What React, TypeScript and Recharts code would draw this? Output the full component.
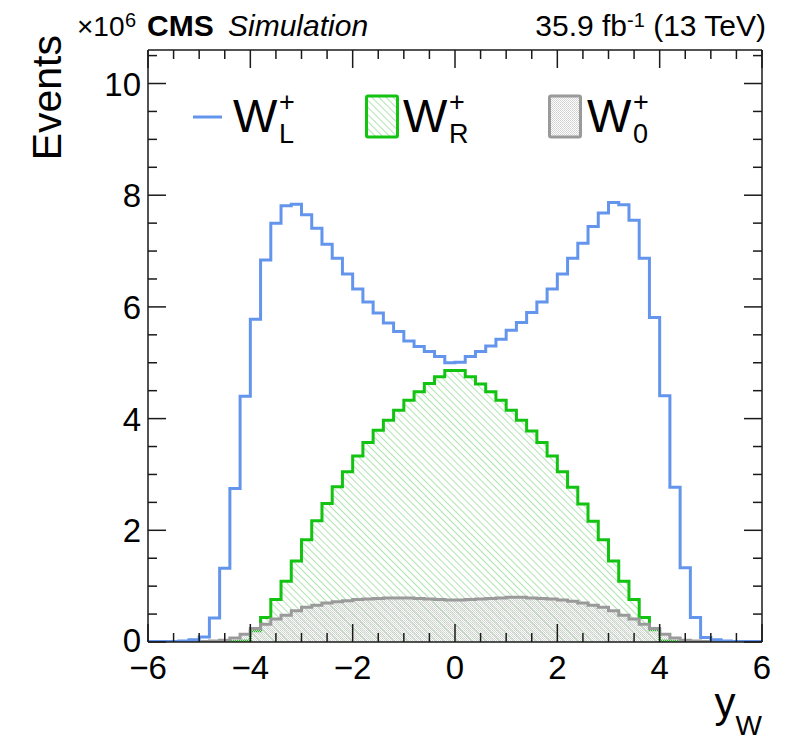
import React from 'react';
import { ComposedChart, Area, Line, XAxis, YAxis, Legend } from 'recharts';

const FONT = '"Liberation Sans", Arial, Helvetica, sans-serif';

// bin edges of y_W (60 bins of 0.2)
const binEdges = [
  -6, -5.8, -5.6, -5.4, -5.2, -5, -4.8, -4.6, -4.4, -4.2,
  -4, -3.8, -3.6, -3.4, -3.2, -3, -2.8, -2.6, -2.4, -2.2,
  -2, -1.8, -1.6, -1.4, -1.2, -1, -0.8, -0.6, -0.4, -0.2,
  0, 0.2, 0.4, 0.6, 0.8, 1, 1.2, 1.4, 1.6, 1.8,
  2, 2.2, 2.4, 2.6, 2.8, 3, 3.2, 3.4, 3.6, 3.8,
  4, 4.2, 4.4, 4.6, 4.8, 5, 5.2, 5.4, 5.6, 5.8, 6,
];

// W_L^+ (x10^6 events per bin)
const wL = [
  0.01, 0.01, 0.01, 0.02, 0.04, 0.09, 0.43, 1.32, 2.75, 4.4,
  5.78, 6.84, 7.5, 7.81, 7.84, 7.65, 7.41, 7.12, 6.87, 6.59,
  6.32, 6.09, 5.89, 5.71, 5.56, 5.39, 5.29, 5.2, 5.11, 5.0,
  5.01, 5.11, 5.2, 5.3, 5.42, 5.58, 5.72, 5.9, 6.09, 6.32,
  6.59, 6.87, 7.14, 7.44, 7.68, 7.87, 7.83, 7.55, 6.87, 5.81,
  4.41, 2.77, 1.33, 0.44, 0.08, 0.04, 0.02, 0.01, 0.01, 0.01,
];

// W_R^+
const wR = [
  0, 0, 0, 0, 0, 0, 0, 0, 0.01, 0.02,
  0.2, 0.44, 0.76, 1.09, 1.45, 1.83, 2.17, 2.48, 2.78, 3.05,
  3.33, 3.57, 3.79, 3.97, 4.15, 4.33, 4.48, 4.63, 4.75, 4.86,
  4.86, 4.75, 4.62, 4.48, 4.33, 4.15, 3.97, 3.78, 3.57, 3.33,
  3.05, 2.77, 2.47, 2.16, 1.83, 1.45, 1.09, 0.76, 0.44, 0.22,
  0.02, 0.01, 0, 0, 0, 0, 0, 0, 0, 0,
];

// W_0^+
const w0 = [
  0, 0, 0, 0, 0.005, 0.01, 0.02, 0.03, 0.07, 0.14,
  0.24, 0.32, 0.41, 0.48, 0.56, 0.62, 0.66, 0.7, 0.72, 0.74,
  0.76, 0.77, 0.78, 0.79, 0.79, 0.79, 0.78, 0.77, 0.76, 0.75,
  0.75, 0.76, 0.77, 0.78, 0.79, 0.8, 0.8, 0.79, 0.78, 0.77,
  0.75, 0.73, 0.7, 0.66, 0.62, 0.56, 0.48, 0.41, 0.32, 0.24,
  0.14, 0.07, 0.03, 0.02, 0.01, 0.005, 0, 0, 0, 0,
];

const xTicks = [
  -6, -5.5, -5, -4.5, -4, -3.5, -3, -2.5, -2, -1.5, -1, -0.5,
  0, 0.5, 1, 1.5, 2, 2.5, 3, 3.5, 4, 4.5, 5, 5.5, 6,
];
const yTicks = [
  0, 0.5, 1, 1.5, 2, 2.5, 3, 3.5, 4, 4.5, 5, 5.5,
  6, 6.5, 7, 7.5, 8, 8.5, 9, 9.5, 10, 10.5,
];

const data = binEdges.map((x, i) => {
  const k = Math.min(i, wL.length - 1);
  return { x, wl: wL[k], wr: wR[k], w0: w0[k] };
});

const BLUE = '#6495ed';
const GREEN = '#12c312';
const GRAY = '#9a9a9a';
const TICK = '#1a1a1a';

const isMajor = (v: number) => Math.abs(v / 2 - Math.round(v / 2)) < 1e-6;
const fmt = (v: number) => (v < 0 ? '\u2212' + Math.abs(v) : String(v));

function BottomTick(props: any) {
  const { x, y, payload } = props;
  const v = payload.value;
  const major = isMajor(v);
  return (
    <g>
      <line x1={x} x2={x} y1={y} y2={y - (major ? 18 : 9)} stroke={TICK} strokeWidth={1.5} />
      {major && (
        <text x={x} y={y + 37} textAnchor="middle" fontSize={33} fontFamily={FONT} fill="#000">
          {fmt(v)}
        </text>
      )}
    </g>
  );
}

function TopTick(props: any) {
  const { x, y, payload } = props;
  const major = isMajor(payload.value);
  return <line x1={x} x2={x} y1={y} y2={y + (major ? 18 : 9)} stroke={TICK} strokeWidth={1.5} />;
}

function LeftTick(props: any) {
  const { x, y, payload } = props;
  const v = payload.value;
  const major = isMajor(v);
  return (
    <g>
      <line x1={x} x2={x + (major ? 18 : 9)} y1={y} y2={y} stroke={TICK} strokeWidth={1.5} />
      {major && (
        <text x={x - 7} y={y + (v === 0 ? 10 : 12)} textAnchor="end" fontSize={33} fontFamily={FONT} fill="#000">
          {fmt(v)}
        </text>
      )}
    </g>
  );
}

function RightTick(props: any) {
  const { x, y, payload } = props;
  const major = isMajor(payload.value);
  return <line x1={x} x2={x - (major ? 18 : 9)} y1={y} y2={y} stroke={TICK} strokeWidth={1.5} />;
}

const legendEntries = [
  { sub: 'L', kind: 'line', color: BLUE },
  { sub: 'R', kind: 'hatch', color: GREEN },
  { sub: '0', kind: 'dots', color: GRAY },
];

// legend wrapper placed at page (178, 88)
function renderLegend() {
  const ox = 178;
  const oy = 88;
  const items = [
    { markX: 193, textX: 233 },
    { markX: 365, textX: 403 },
    { markX: 548, textX: 587 },
  ];
  return (
    <svg width={520} height={70} style={{ display: 'block', overflow: 'visible' }}>
      {legendEntries.map((e, i) => {
        const it = items[i];
        const mx = it.markX - ox;
        const tx = it.textX - ox;
        return (
          <g key={e.sub}>
            {e.kind === 'line' ? (
              <line x1={mx} x2={mx + 29} y1={117 - oy} y2={117 - oy} stroke={e.color} strokeWidth={3} />
            ) : (
              <rect
                x={mx + 1.5}
                y={96 - oy}
                width={31}
                height={41}
                fill={e.kind === 'hatch' ? 'url(#hatchR)' : 'url(#dots0)'}
                stroke={e.color}
                strokeWidth={3}
                rx={1.5}
              />
            )}
            <text fontFamily={FONT} fill="#000">
              <tspan x={tx} y={132 - oy} fontSize={47}>W</tspan>
              <tspan x={tx + 46} y={111 - oy} fontSize={27}>+</tspan>
              <tspan x={tx + 46} y={143 - oy} fontSize={27}>{e.sub}</tspan>
            </text>
          </g>
        );
      })}
    </svg>
  );
}

export default function App() {
  return (
    <div style={{ width: 785, height: 735, background: '#fff' }}>
      <ComposedChart
        width={785}
        height={735}
        data={data}
        margin={{ top: 41, right: 30, bottom: 41, left: 40 }}
      >
        <defs>
          <pattern id="hatchR" patternUnits="userSpaceOnUse" width="5" height="5" patternTransform="rotate(-45)">
            <line x1="0" y1="0" x2="0" y2="5" stroke="#5fc85f" strokeWidth="1" />
          </pattern>
          <pattern id="dots0" patternUnits="userSpaceOnUse" width="2" height="2">
            <rect x="0" y="0" width="1" height="1" fill="#cfcfcf" />
            <rect x="1" y="1" width="1" height="1" fill="#d8d8d8" />
          </pattern>
        </defs>
        <XAxis
          xAxisId="b"
          dataKey="x"
          type="number"
          domain={[-6, 6]}
          allowDataOverflow
          ticks={xTicks}
          interval={0}
          height={60}
          tickSize={0}
          tickMargin={0}
          tickLine={false}
          axisLine={{ stroke: TICK, strokeWidth: 1.5 }}
          tick={<BottomTick />}
        />
        <XAxis
          xAxisId="t"
          orientation="top"
          dataKey="x"
          type="number"
          domain={[-6, 6]}
          allowDataOverflow
          ticks={xTicks}
          interval={0}
          height={1}
          tickSize={0}
          tickMargin={0}
          tickLine={false}
          axisLine={{ stroke: TICK, strokeWidth: 1.5 }}
          tick={<TopTick />}
        />
        <YAxis
          yAxisId="l"
          type="number"
          domain={[0, 10.6]}
          allowDataOverflow
          ticks={yTicks}
          interval={0}
          width={100}
          tickSize={0}
          tickMargin={0}
          tickLine={false}
          axisLine={{ stroke: TICK, strokeWidth: 1.5 }}
          tick={<LeftTick />}
        />
        <YAxis
          yAxisId="r"
          orientation="right"
          type="number"
          domain={[0, 10.6]}
          allowDataOverflow
          ticks={yTicks}
          interval={0}
          width={1}
          tickSize={0}
          tickMargin={0}
          tickLine={false}
          axisLine={{ stroke: TICK, strokeWidth: 1.5 }}
          tick={<RightTick />}
        />
        <Area
          xAxisId="b"
          yAxisId="l"
          name="W_R"
          type="stepAfter"
          dataKey="wr"
          stroke={GREEN}
          strokeWidth={3}
          fill="url(#hatchR)"
          fillOpacity={1}
          dot={false}
          activeDot={false}
          isAnimationActive={false}
        />
        <Area
          xAxisId="b"
          yAxisId="l"
          name="W_0"
          type="stepAfter"
          dataKey="w0"
          stroke={GRAY}
          strokeWidth={3}
          fill="url(#dots0)"
          fillOpacity={1}
          dot={false}
          activeDot={false}
          isAnimationActive={false}
        />
        <Line
          xAxisId="b"
          yAxisId="l"
          name="W_L"
          type="stepAfter"
          dataKey="wl"
          stroke={BLUE}
          strokeWidth={3}
          dot={false}
          activeDot={false}
          isAnimationActive={false}
        />
        <Legend
          layout="vertical"
          verticalAlign="middle"
          align="center"
          content={renderLegend}
          wrapperStyle={{ position: 'absolute', left: 170, top: 80, width: 520, height: 70 }}
        />
        <text fontFamily={FONT} fill="#000">
          <tspan x={69} y={28} fontSize={28}>{'\u00d710'}</tspan>
          <tspan x={117} y={19} fontSize={20}>6</tspan>
        </text>
        <text x={139} y={28} fontFamily={FONT} fontSize={30} fontWeight="bold" fill="#000">CMS</text>
        <text x={220} y={28} fontFamily={FONT} fontSize={30} fontStyle="italic" fill="#000">Simulation</text>
        <text x={758} y={28} textAnchor="end" fontFamily={FONT} fontSize={30} fill="#000">
          <tspan>35.9 fb</tspan>
          <tspan fontSize={20} dy={-9}>-1</tspan>
          <tspan dy={9}>{' (13 TeV)'}</tspan>
        </text>
        <text
          x={53}
          y={27}
          transform="rotate(-90 53 27)"
          textAnchor="end"
          fontFamily={FONT}
          fontSize={41}
          fill="#000"
        >
          Events
        </text>
        <text x={754} y={709} textAnchor="end" fontFamily={FONT} fill="#000">
          <tspan fontSize={42}>y</tspan>
          <tspan fontSize={28} dy={18}>W</tspan>
        </text>
      </ComposedChart>
    </div>
  );
}
